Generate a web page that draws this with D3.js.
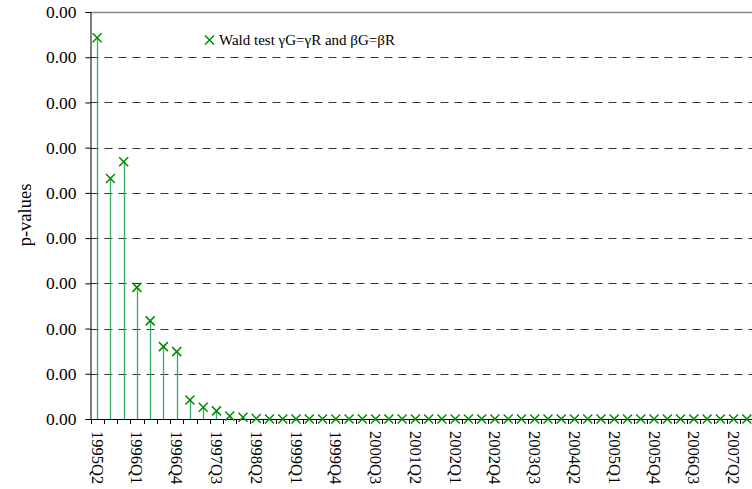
<!DOCTYPE html>
<html><head><meta charset="utf-8">
<script src="https://cdn.jsdelivr.net/npm/d3@7"></script>
<style>body{margin:0;background:#fff;}svg{display:block;}</style>
</head><body>
<svg id="c" width="752" height="489"></svg>
<script>
// Data
const quarters = [];
for (let yr = 1995; yr <= 2007; yr++) for (let q = 1; q <= 4; q++) {
  if ((yr === 1995 && q < 2) || (yr === 2007 && q > 3)) continue;
  quarters.push(yr + "Q" + q);
}
const pValues = [0.000843,0.000532,0.000569,0.000291,0.000217,0.000160,0.000149,0.000042,0.000026,0.000018,0.0000066,0.000004,0.000001,
  0,0,0,0,0,0,0,0,0,0,0,0,0,0,0,0,0,0,0,0,0,0,0,0,0,0,0,0,0,0,0,0,0,0,0,0,0];
const yTicks = [0,0.0001,0.0002,0.0003,0.0004,0.0005,0.0006,0.0007,0.0008,0.0009];
const legendLabel = "Wald test \u03B3G=\u03B3R and \u03B2G=\u03B2R";

const svg = d3.select("#c");
const FONT = '"Liberation Serif"';
const mLeft = 90.5, mRight = 753.5, mTop = 12, mBottom = 419;
const x = d3.scaleBand().domain(quarters).range([mLeft, mRight]).padding(0);
const y = d3.scaleLinear().domain([0, 0.0009]).range([mBottom, mTop]);

// gridlines
svg.append("g").selectAll("line").data(yTicks.slice(1)).join("line")
  .attr("x1", mLeft).attr("x2", 752)
  .attr("y1", d => Math.round(y(d)) + 0.5).attr("y2", d => Math.round(y(d)) + 0.5)
  .attr("stroke", d => d === 0.0009 ? "#888" : "#333")
  .attr("stroke-width", d => d === 0.0009 ? 1.5 : 1)
  .attr("stroke-dasharray", d => d === 0.0009 ? null : "8,6");

// stems
svg.append("g").selectAll("line").data(quarters).join("line")
  .attr("x1", d => Math.round(x(d) + x.bandwidth()/2) + 0.5)
  .attr("x2", d => Math.round(x(d) + x.bandwidth()/2) + 0.5)
  .attr("y1", mBottom).attr("y2", (d,i) => y(pValues[i]))
  .attr("stroke", "#3aa866").attr("stroke-width", 1.3);

// y axis
const yAxis = d3.axisLeft(y).tickValues(yTicks).tickFormat(d3.format(".2f")).tickSize(5);
const ya = svg.append("g").attr("transform", `translate(${mLeft},0)`).call(yAxis);
ya.select(".domain").attr("stroke", "#000");
ya.selectAll("text").style("font-family", FONT).style("font-size", "17.5px").attr("fill", "#000").attr("dx", "-6");

// x axis
const xa = svg.append("g").attr("transform", `translate(0,${mBottom})`);
xa.append("line").attr("x1", mLeft).attr("x2", 752).attr("y1", 0.5).attr("y2", 0.5).attr("stroke", "#000");
xa.selectAll("line.t").data(quarters).join("line").attr("class","t")
  .attr("x1", d => Math.round(x(d)) + 0.5).attr("x2", d => Math.round(x(d)) + 0.5)
  .attr("y1", 0).attr("y2", 5).attr("stroke", "#000");
xa.selectAll("text").data(quarters.filter((d,i) => i % 3 === 0)).join("text")
  .attr("transform", d => `translate(${x(d) + x.bandwidth()/2},12) rotate(90)`)
  .attr("dy", "0.33em").attr("text-anchor", "start")
  .style("font-family", FONT).style("font-size", "16.5px").text(d => d);

// markers
const mk = (g, cx, cy) => {
  const s = 4.5;
  g.append("path").attr("d", `M${cx-s},${cy-s}L${cx+s},${cy+s}M${cx-s},${cy+s}L${cx+s},${cy-s}`)
    .attr("stroke", "#008a00").attr("stroke-width", 1.5).attr("fill", "none");
};
const mg = svg.append("g");
quarters.forEach((d,i) => mk(mg, x(d) + x.bandwidth()/2, y(pValues[i])));

// y label
svg.append("text").attr("transform", "translate(31,215) rotate(-90)")
  .attr("text-anchor", "middle").style("font-family", FONT).style("font-size", "18.5px").text("p-values");

// legend
const lg = svg.append("g");
mk(lg, 209.5, 40);
lg.append("text").attr("x", 219).attr("y", 45).style("font-family", FONT).style("font-size", "15px").text(legendLabel);
</script>
</body></html>
